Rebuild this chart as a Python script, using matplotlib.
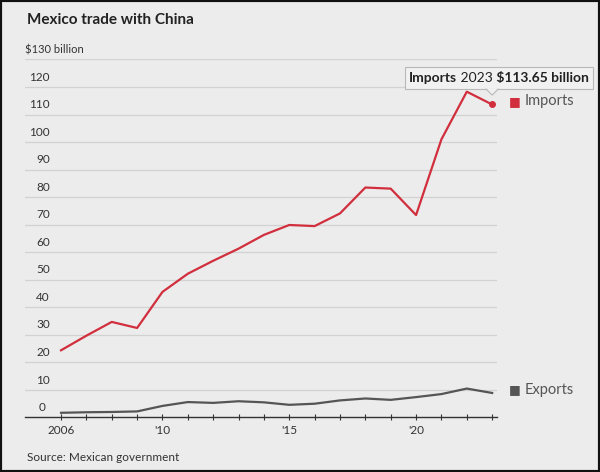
import matplotlib
matplotlib.use("Agg")
import matplotlib.pyplot as plt
from matplotlib.patches import Rectangle, Polygon

plt.rcParams['font.family'] = ['Lato', 'DejaVu Sans']

years = list(range(2006, 2024))
imports = [24.4, 29.7, 34.7, 32.5, 45.6, 52.2, 56.9, 61.3, 66.3, 69.9,
           69.5, 74.1, 83.5, 83.1, 73.5, 101.0, 118.3, 113.65]
exports = [1.7, 1.9, 2.0, 2.2, 4.2, 5.6, 5.3, 5.9, 5.5, 4.6,
           5.0, 6.2, 6.9, 6.4, 7.4, 8.5, 10.5, 8.9]
y_ticks = [10, 20, 30, 40, 50, 60, 70, 80, 90, 100, 110, 120]
x_ticks = [2006, 2010, 2015, 2020]
x_labels = ["2006", "'10", "'15", "'20"]

BG = '#ececec'
RED = '#d12f3d'
DARK = '#555555'
TXT = '#333333'


def main():
    fig = plt.figure(figsize=(6, 4.72), dpi=100, facecolor=BG)
    ax = fig.add_axes([0.0417, 0.1155, 0.787, 0.7585])
    ax.set_facecolor(BG)
    ax.set_xlim(2004.58, 2023.2)
    ax.set_ylim(0, 130)

    # gridlines and y labels sitting above them
    for v in y_ticks + [130]:
        ax.axhline(v, color='#d2d2d2', lw=0.9, zorder=1)
    for v in y_ticks:
        ax.text(0.053, v + 1.6, str(v), transform=ax.get_yaxis_transform(),
                ha='right', va='bottom', fontsize=8.5, color=TXT)
    ax.text(0.0, 131.5, '$130 billion', transform=ax.get_yaxis_transform(),
            ha='left', va='bottom', fontsize=8, color=TXT)
    ax.text(0.043, 1.8, '0', transform=ax.get_yaxis_transform(),
            ha='right', va='bottom', fontsize=8.5, color=TXT)

    for s in ['top', 'right', 'left']:
        ax.spines[s].set_visible(False)
    ax.spines['bottom'].set_color('#333333')
    ax.spines['bottom'].set_linewidth(1)
    ax.set_yticks([])
    ax.set_xticks(years, minor=True)
    ax.set_xticks(x_ticks)
    ax.set_xticklabels(x_labels)
    ax.tick_params(axis='x', which='both', direction='inout', length=5,
                   width=0.8, color='#333333', labelsize=8.5,
                   labelcolor=TXT, pad=3)

    ax.plot(years, imports, color=RED, lw=1.6, zorder=3)
    ax.plot(years, exports, color=DARK, lw=1.6, zorder=3)
    ax.plot(years[-1], imports[-1], 'o', color=RED, ms=4, zorder=4)

    # series labels
    for vals, col, name in [(imports, RED, 'Imports'), (exports, DARK, 'Exports')]:
        ax.annotate('\u25A0', xy=(years[-1], vals[-1]), xytext=(16.6, 2.2),
                    textcoords='offset points', ha='center', va='center',
                    color=col, fontsize=9, family='DejaVu Sans',
                    annotation_clip=False)
        ax.annotate(name, xy=(years[-1], vals[-1]), xytext=(23.5, 2.2),
                    textcoords='offset points', ha='left', va='center',
                    color=DARK, fontsize=10.5, annotation_clip=False)

    # tooltip
    t1 = ax.annotate('Imports', xy=(years[-1], imports[-1]), xytext=(-60, 19),
                     textcoords='offset points', ha='left', va='center',
                     fontsize=10, fontweight='bold', color='#222222',
                     annotation_clip=False, zorder=7)
    t2 = ax.annotate(' 2023', xy=(1, 0), xycoords=t1, ha='left', va='bottom',
                     fontsize=10, color='#222222', zorder=7,
                     annotation_clip=False)
    t3 = ax.annotate(' $%.2f billion' % imports[-1], xy=(1, 0), xycoords=t2,
                     ha='left', va='bottom', fontsize=10, fontweight='bold',
                     color='#222222', zorder=7, annotation_clip=False)
    fig.canvas.draw()
    r = fig.canvas.get_renderer()
    b1 = t1.get_window_extent(r)
    b3 = t3.get_window_extent(r)
    x0, x1 = b1.x0 - 4, b3.x1 + 4
    y0, y1 = b1.y0 - 5, b1.y1 + 5
    px, _ = ax.transData.transform((years[-1], imports[-1]))
    box = Rectangle((x0, y0), x1 - x0, y1 - y0, transform=None,
                    facecolor='#f1f1f1', edgecolor='#b8b8b8', lw=0.8, zorder=5)
    tri = Polygon([(px - 6, y0 + 0.6), (px + 6, y0 + 0.6), (px, y0 - 6)],
                  closed=True, transform=None, facecolor='#f1f1f1',
                  edgecolor='none', zorder=6)
    edge = plt.Line2D([px - 6, px, px + 6], [y0, y0 - 6, y0],
                      transform=None, color='#b8b8b8', lw=0.8, zorder=6)
    for a in (box, tri, edge):
        ax.add_artist(a)
        a.set_clip_on(False)

    fig.text(0.045, 0.957, 'Mexico trade with China', ha='left', va='center',
             fontsize=11, fontweight='bold', color='#222222')
    fig.text(0.045, 0.03, 'Source: Mexican government', ha='left', va='center',
             fontsize=8.5, color=TXT)

    fig.patches.append(Rectangle((0, 0), 1, 1, transform=fig.transFigure,
                                 fill=False, edgecolor='#111111', lw=3))
    fig.savefig('out.png', dpi=100, facecolor=BG)


if __name__ == "__main__":
    main()
